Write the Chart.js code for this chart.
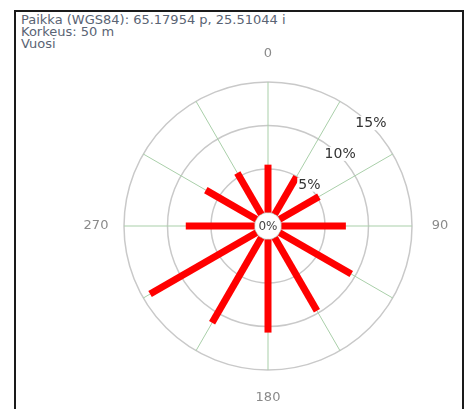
<!DOCTYPE html>
<html>
<head>
<meta charset="utf-8">
<script src="https://cdn.jsdelivr.net/npm/chart.js@4.4.0/dist/chart.umd.min.js"></script>
<style>
  html, body { margin: 0; padding: 0; background: #fff; overflow: hidden; }
  #frame { position: absolute; left: 14px; top: 10px; width: 446px; height: 440px; border: 2px solid #1a1a1a; }
  #info { position: absolute; left: 21px; top: 14px; font: 13px "DejaVu Sans", sans-serif; line-height: 12px; color: #5a6474; white-space: pre; }
  #wrap { position: absolute; left: 0; top: 0; width: 464px; height: 409px; }
</style>
</head>
<body>
<div id="frame"></div>
<div id="info"></div>
<div id="wrap"><canvas id="rose"></canvas></div>
<script>
// otsikkorivit
const infoLines = ["Paikka (WGS84): 65.17954 p, 25.51044 i", "Korkeus: 50 m", "Vuosi"];

// suunnat (astetta) ja tuulen suhteellinen osuus (%)
const directions = [0, 30, 60, 90, 120, 150, 180, 210, 240, 270, 300, 330];
const frequency = [5.5, 5.0, 5.2, 7.4, 9.5, 9.7, 10.7, 11.3, 14.1, 7.9, 6.7, 5.5];
const compassLabels = [0, 90, 180, 270];
const ringTicks = [0, 5, 10, 15];

document.getElementById("info").textContent = infoLines.join("\n");

/* piirretään punaiset palkit keskiympyrästä ulospäin */
const roseBars = {
  id: "roseBars",
  afterDatasetsDraw(chart) {
    const ctx = chart.ctx;
    const r = chart.scales.r;
    const meta = chart.getDatasetMeta(0);

    ctx.save();
    ctx.strokeStyle = "#ff0000";
    ctx.lineWidth = 7;
    ctx.lineCap = "butt";
    meta.data.forEach((pt, i) => {
      const start = r.getPointPositionForValue(i, 0);
      ctx.beginPath();
      ctx.moveTo(start.x, start.y);
      ctx.lineTo(pt.x, pt.y);
      ctx.stroke();
    });

    // keskireikä ja 0%
    const hole = r.getDistanceFromCenterForValue(0);
    ctx.fillStyle = "#fff";
    ctx.beginPath();
    ctx.arc(r.xCenter, r.yCenter, hole - 0.8, 0, Math.PI * 2);
    ctx.fill();
    ctx.textAlign = "center";
    ctx.textBaseline = "middle";
    ctx.font = '12px "DejaVu Sans"';
    ctx.fillStyle = "#444";
    ctx.fillText(ringTicks[0] + "%", r.xCenter, r.yCenter + 0.5);

    // kehien prosentit 45 asteen suunnassa
    ctx.font = '14px "DejaVu Sans"';
    ringTicks.slice(1).forEach(v => {
      const p = r.getPointPosition(1.5, r.getDistanceFromCenterForValue(v) + 1.5);
      const text = v + "%";
      const w = ctx.measureText(text).width;
      ctx.fillStyle = "#fff";
      ctx.fillRect(p.x - w / 2 - 1, p.y - 7, w + 2, 14);
      ctx.fillStyle = "#333";
      ctx.fillText(text, p.x, p.y + 0.5);
    });

    // ilmansuunnat
    ctx.font = '13px "DejaVu Sans"';
    ctx.fillStyle = "#8a8a8a";
    compassLabels.forEach(deg => {
      const i = directions.indexOf(deg);
      const p = r.getPointPosition(i, 172);
      ctx.fillText(String(deg), p.x, p.y);
    });
    ctx.restore();
  }
};

new Chart(document.getElementById("rose"), {
  type: "radar",
  data: {
    labels: directions.map(String),
    datasets: [{
      data: frequency,
      showLine: false,
      borderWidth: 0,
      pointRadius: 0,
      pointHoverRadius: 0,
      fill: false
    }]
  },
  options: {
    responsive: true,
    maintainAspectRatio: false,
    animation: false,
    events: [],
    layout: { padding: { left: 124, right: 52, top: 82, bottom: 39 } },
    plugins: {
      legend: { display: false },
      tooltip: { enabled: false }
    },
    scales: {
      r: {
        min: -1.55,
        max: 15,
        startAngle: 0,
        ticks: { display: false, stepSize: 5 },
        pointLabels: { display: false },
        grid: { circular: true, color: "#c9c9c9", lineWidth: 1.5 },
        angleLines: { color: "#a9cfa9", lineWidth: 1 }
      }
    }
  },
  plugins: [roseBars]
});
</script>
</body>
</html>
